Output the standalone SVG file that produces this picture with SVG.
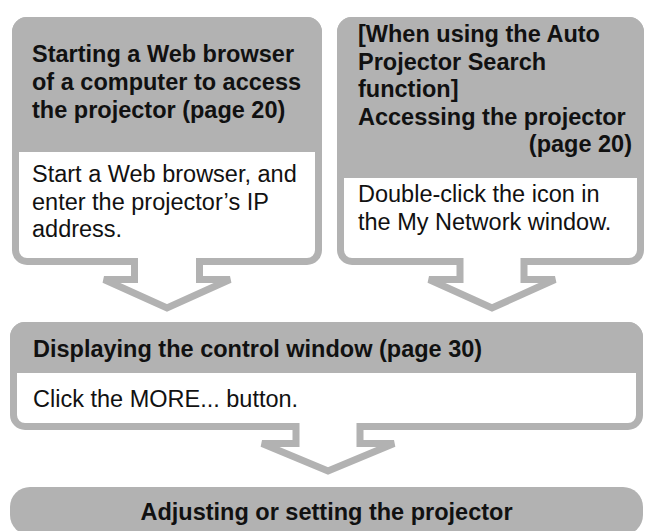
<svg xmlns="http://www.w3.org/2000/svg" width="648" height="531" viewBox="0 0 648 531">
<style>
.frame{fill:#ffffff;stroke:#b2b2b2;stroke-width:7;stroke-linejoin:miter}
.head{fill:#b2b2b2}
.t{font-family:"Liberation Sans",Arial,Helvetica,sans-serif;font-size:23.5px;fill:#111111}
.b{font-weight:bold}
</style>
<rect width="648" height="531" fill="#ffffff"/>
<g id="node-web-browser">
<path class="frame" d="M27 20.5 H307 A11.5 11.5 0 0 1 318.5 32 V250 A11.5 11.5 0 0 1 307 261.5 H199.5 V279.5 H230 L167 308 L104 279.5 H134.5 V261.5 H27 A11.5 11.5 0 0 1 15.5 250 V32 A11.5 11.5 0 0 1 27 20.5 Z"/>
<path class="head" d="M12 152 V32 A15 15 0 0 1 27 17 H307 A15 15 0 0 1 322 32 V152 Z"/>
<text class="t b" x="32" y="62">Starting a Web browser</text>
<text class="t b" x="32" y="90">of a computer to access</text>
<text class="t b" x="32" y="118">the projector (page 20)</text>
<text class="t" x="32" y="182">Start a Web browser, and</text>
<text class="t" x="32" y="210">enter the projector’s IP</text>
<text class="t" x="32" y="237">address.</text>
</g>
<g id="node-auto-search">
<path class="frame" d="M352 20.5 H629 A11.5 11.5 0 0 1 640.5 32 V250 A11.5 11.5 0 0 1 629 261.5 H524 V279.5 H555 L492 308 L429 279.5 H460 V261.5 H352 A11.5 11.5 0 0 1 340.5 250 V32 A11.5 11.5 0 0 1 352 20.5 Z"/>
<path class="head" d="M337 178 V32 A15 15 0 0 1 352 17 H629 A15 15 0 0 1 644 32 V178 Z"/>
<text class="t b" x="358" y="42">[When using the Auto</text>
<text class="t b" x="358" y="70">Projector Search</text>
<text class="t b" x="358" y="97">function]</text>
<text class="t b" x="358" y="125">Accessing the projector</text>
<text class="t b" x="632" y="152" text-anchor="end">(page 20)</text>
<text class="t" x="358" y="202">Double-click the icon in</text>
<text class="t" x="358" y="230">the My Network window.</text>
</g>
<g id="node-control-window">
<path class="frame" d="M25 325.5 H628 A11.5 11.5 0 0 1 639.5 337 V415 A11.5 11.5 0 0 1 628 426.5 H360 V443.5 H394 L328 471 L262 443.5 H296 V426.5 H25 A11.5 11.5 0 0 1 13.5 415 V337 A11.5 11.5 0 0 1 25 325.5 Z"/>
<path class="head" d="M10 373 V337 A15 15 0 0 1 25 322 H628 A15 15 0 0 1 643 337 V373 Z"/>
<text class="t b" x="33" y="357">Displaying the control window (page 30)</text>
<text class="t" x="33" y="407">Click the MORE... button.</text>
</g>
<g id="node-adjusting">
<rect class="head" x="10" y="487" width="633" height="48" rx="20"/>
<text class="t b" x="326.5" y="520" text-anchor="middle">Adjusting or setting the projector</text>
</g>
<g id="connectors"></g>
</svg>
